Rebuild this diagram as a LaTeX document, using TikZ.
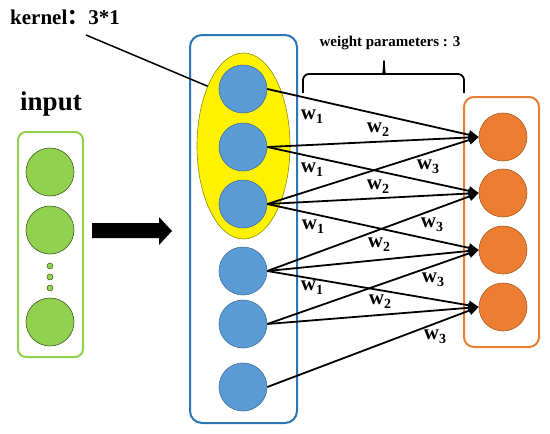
\documentclass[tikz,border=0pt]{standalone}
\usepackage{fontspec}
\setmainfont{Liberation Serif}
\newfontfamily\cjk{Noto Sans CJK SC}
\usetikzlibrary{shapes.geometric,arrows.meta}
\definecolor{bluebox}{HTML}{2E75B6}
\definecolor{bluefill}{HTML}{5B9BD5}
\definecolor{blueedge}{HTML}{41719C}
\definecolor{orfill}{HTML}{ED7D31}
\definecolor{oredge}{HTML}{AE5A21}
\definecolor{grfill}{HTML}{92D050}
\definecolor{gredge}{HTML}{3A5F1E}
\definecolor{yedge}{HTML}{8C8C00}
\newcommand\wlab[1]{w\raisebox{-0.45ex}{\fontsize{14}{14}\selectfont #1}}
\begin{document}
\begin{tikzpicture}[x=1pt,y=-1pt,
  neuron/.style={circle, minimum size=48pt, inner sep=0pt, line width=0.6pt},
  bnode/.style={neuron, fill=bluefill, draw=blueedge},
  onode/.style={neuron, fill=orfill, draw=oredge},
  gnode/.style={neuron, fill=grfill, draw=gredge},
  dotnode/.style={circle, minimum size=6pt, inner sep=0pt, fill=grfill, draw=gredge, line width=0.5pt},
  conn/.style={line width=1.8pt, -{Triangle[length=10pt,width=9pt]}},
  wl/.style={font=\bfseries\fontsize{21}{21}\selectfont, inner sep=0pt},
  framebox/.style={line width=2pt, fill=white, inner sep=0pt}
]
\useasboundingbox (0,0) rectangle (550,434);

% frames
\node[framebox, draw=grfill, rounded corners=8pt, minimum width=65pt, minimum height=225pt] (inbox) at (50.5,244.5) {};
\node[framebox, draw=bluebox, rounded corners=12pt, minimum width=107pt, minimum height=388pt] (hidbox) at (243.5,229) {};
\node[framebox, draw=orfill, rounded corners=10pt, minimum width=75pt, minimum height=250pt] (outbox) at (501.5,222) {};

% kernel ellipse
\node[ellipse, fill=yellow, draw=yedge, line width=0.6pt, minimum width=93pt, minimum height=186pt, inner sep=0pt] (ker) at (243.5,146) {};

% input neurons
\node[gnode] (g1) at (50,172) {};
\node[gnode] (g2) at (50,230) {};
\node[gnode] (g3) at (50,322) {};
\node[dotnode] (d1) at (50,266) {};
\node[dotnode] (d2) at (50,277) {};
\node[dotnode] (d3) at (50,288) {};

% big arrow
\fill (92,223) -- (159,223) -- (159,217) -- (172,231) -- (159,245) -- (159,238) -- (92,238) -- cycle;

% hidden neurons
\node[bnode] (b1) at (243,89) {};
\node[bnode] (b2) at (243,147) {};
\node[bnode] (b3) at (243,204) {};
\node[bnode] (b4) at (243,271) {};
\node[bnode] (b5) at (243,324) {};
\node[bnode] (b6) at (243,387) {};

% output neurons
\node[onode] (o1) at (503,137) {};
\node[onode] (o2) at (503,193) {};
\node[onode] (o3) at (503,250) {};
\node[onode] (o4) at (503,307) {};

% connections
\draw[conn] (b1.east) -- (o1.west);
\draw[conn] (b2.east) -- (o1.west);
\draw[conn] (b2.east) -- (o2.west);
\draw[conn] (b3.east) -- (o1.west);
\draw[conn] (b3.east) -- (o2.west);
\draw[conn] (b3.east) -- (o3.west);
\draw[conn] (b4.east) -- (o2.west);
\draw[conn] (b4.east) -- (o3.west);
\draw[conn] (b4.east) -- (o4.west);
\draw[conn] (b5.east) -- (o3.west);
\draw[conn] (b5.east) -- (o4.west);
\draw[conn] (b6.east) -- (o4.west);

% weight labels
\node[wl] (w1a) at (312,117) {\wlab{1}};
\node[wl] (w1b) at (312,170) {\wlab{1}};
\node[wl] (w1c) at (313,227) {\wlab{1}};
\node[wl] (w1d) at (312,288) {\wlab{1}};
\node[wl] (w2a) at (378,130) {\wlab{2}};
\node[wl] (w2b) at (378,187) {\wlab{2}};
\node[wl] (w2c) at (379,245) {\wlab{2}};
\node[wl] (w2d) at (380,302) {\wlab{2}};
\node[wl] (w3a) at (428,167) {\wlab{3}};
\node[wl] (w3b) at (432,225) {\wlab{3}};
\node[wl] (w3c) at (433,280) {\wlab{3}};
\node[wl] (w3d) at (435,337) {\wlab{3}};

% texts
\node[anchor=base west, font=\bfseries\fontsize{21}{21}\selectfont, inner sep=0pt] (kt) at (10,24) {kernel{\cjk ：}3*1};
\node[anchor=base, font=\bfseries\fontsize{27}{27}\selectfont, inner sep=0pt] (inp) at (51,110) {input};
\node[font=\bfseries\fontsize{15}{15}\selectfont, inner sep=0pt] (wp) at (390,43) {weight parameters : 3};

% kernel pointer
\coordinate (kc) at (86,35);
\draw[line width=1.5pt] (kc) -- (ker.121);

% brace
\draw[line width=1.8pt, rounded corners=6pt] (303,93) -- (303,74) -- (377,74) .. controls (383,74) and (384,70) .. (384,57) .. controls (384,70) and (385,74) .. (391,74) -- (464,74) -- (464,93);
\end{tikzpicture}
\end{document}
